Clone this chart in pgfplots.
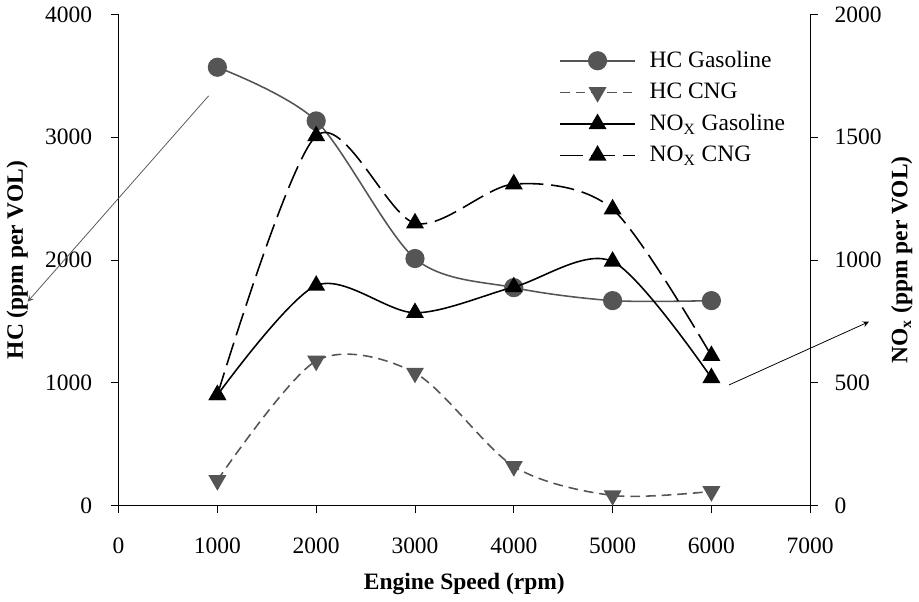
\documentclass[border=0pt]{standalone}
\usepackage{pgfplots}
\pgfplotsset{compat=1.18}
\usepackage{fontspec}
\setmainfont{Liberation Serif}
\begin{document}
\begin{tikzpicture}
\definecolor{hcgray}{RGB}{85,85,85}
\pgfplotsset{
  every axis/.append style={
    width=353.5pt, height=251pt, scale only axis,
    xmin=0, xmax=7000, font=\fontsize{12}{14}\selectfont,
    /pgf/number format/assume math mode=true,
    /pgf/number format/set thousands separator={},
    tick style={black, thin}, major tick length=4pt,
    axis line style={black, thin},
  },
  longleg/.style={legend image code/.code={
    \draw[##1] (0cm,0cm) -- (1.35cm,0cm);
    \draw[##1, solid] plot coordinates {(0.675cm,0cm)};
  }},
}
\begin{axis}[
  axis x line=bottom, axis y line=left,
  axis line style={-}, tick align=outside,
  ymin=0, ymax=4000, ytick={0,1000,...,4000},
  xtick={0,1000,...,7000},
  xticklabel style={yshift=-9pt},
  yticklabel style={xshift=-6pt},
  xlabel={\textbf{Engine Speed (rpm)}},
  xlabel style={yshift=-3pt},
  ylabel={\textbf{HC (ppm per VOL)}},
  ylabel style={yshift=2pt},
  clip=false,
]
\addplot[hcgray, thick, smooth, mark=*, mark size=4.5pt, mark options={fill=hcgray, solid}]
  coordinates {(1000,3570) (2000,3133) (3000,2012) (4000,1775) (5000,1669) (6000,1669)};
\addplot[hcgray, thick, smooth, dash pattern=on 5pt off 3pt, mark=triangle*, mark size=4.5pt, mark options={fill=hcgray, solid, rotate=180}]
  coordinates {(1000,205) (2000,1178) (3000,1080) (4000,319) (5000,82) (6000,115)};
\draw[-stealth, gray!70!black] (axis cs:911,3337) -- (axis cs:-921,1660);
\draw[-stealth, black] (axis cs:6178,982) -- (axis cs:7594,1497);
\end{axis}
\begin{axis}[
  axis x line=none, axis y line=right,
  axis line style={-}, tick align=outside,
  ymin=0, ymax=2000, ytick={0,500,...,2000},
  yticklabel style={xshift=5pt},
  ylabel={\textbf{NO\textsubscript{x} (ppm per VOL)}},
  ylabel style={yshift=2pt},
  legend style={draw=none, fill=none, at={(rel axis cs:0.628,0.942)}, anchor=north west,
    row sep=2.5pt, font=\fontsize{12}{14}\selectfont, nodes={inner xsep=7pt}},
  legend cell align=left,
]
\addlegendimage{longleg, hcgray, thick, mark=*, mark size=4.5pt, mark options={fill=hcgray, solid}}
\addlegendentry{HC Gasoline}
\addlegendimage{longleg, hcgray, thick, dash pattern=on 5pt off 3pt, mark=triangle*, mark size=4.5pt, mark options={fill=hcgray, solid, rotate=180}}
\addlegendentry{HC CNG}
\addplot[longleg, black, thick, smooth, mark=triangle*, mark size=4.5pt, mark options={solid}]
  coordinates {(1000,450) (2000,896) (3000,785) (4000,890) (5000,994) (6000,520)};
\addlegendentry{NO\textsubscript{X} Gasoline}
\addplot[longleg, black, thick, smooth, dash pattern=on 12pt off 4pt, mark=triangle*, mark size=4.5pt, mark options={solid}]
  coordinates {(1000,450) (2000,1505) (3000,1150) (4000,1309) (5000,1207) (6000,610)};
\addlegendentry{NO\textsubscript{X} CNG}
\end{axis}
\end{tikzpicture}
\end{document}
